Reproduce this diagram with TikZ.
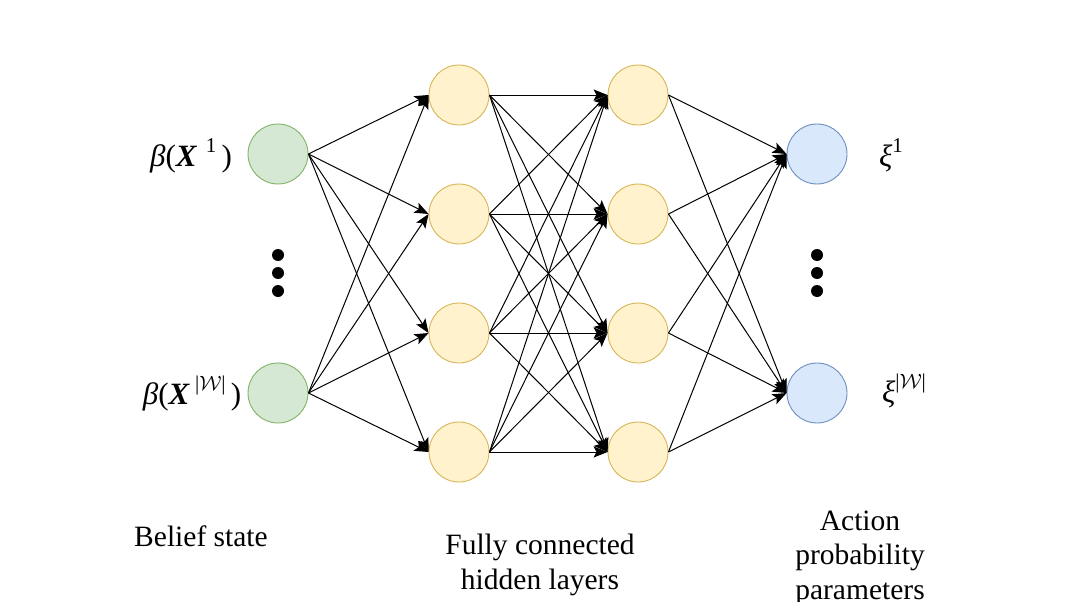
\documentclass[tikz,border=0pt]{standalone}
\usepackage{fontspec}
\setmainfont{Liberation Serif}
\usetikzlibrary{arrows.meta}
\newcommand{\supr}[1]{\raisebox{0.42em}{\fontsize{21}{21}\selectfont #1}}
\begin{document}
\begin{tikzpicture}[x=1pt,y=-1pt,
  neuron/.style={circle,minimum size=60pt,inner sep=0pt,line width=0.9pt},
  inp/.style={neuron,draw={rgb,255:red,130;green,179;blue,102},fill={rgb,255:red,213;green,232;blue,212}},
  hid/.style={neuron,draw={rgb,255:red,214;green,182;blue,86},fill={rgb,255:red,255;green,242;blue,204}},
  outp/.style={neuron,draw={rgb,255:red,108;green,142;blue,191},fill={rgb,255:red,218;green,232;blue,252}},
  conn/.style={line width=1pt,-{Stealth[length=14pt,width=11pt,inset=3pt]}},
  dot/.style={circle,fill=black,inner sep=0pt,minimum size=12pt},
  lab/.style={font=\fontsize{29.5}{34.5}\selectfont,align=center},
  mlab/.style={font=\fontsize{31}{34}\selectfont,inner sep=0pt}]
\useasboundingbox (0,0) rectangle (1065,602);
% nodes
\node[inp] (i1) at (278,154) {};
\node[inp] (i2) at (278,393) {};
\foreach \k/\y in {1/95,2/214,3/333,4/452}{
  \node[hid] (a\k) at (459,\y) {};
  \node[hid] (b\k) at (638,\y) {};
}
\node[outp] (o1) at (817,154) {};
\node[outp] (o2) at (817,393) {};
% dots
\node[dot] (d1) at (278,255) {};
\node[dot] (d2) at (278,273) {};
\node[dot] (d3) at (278,291) {};
\node[dot] (e1) at (817,255) {};
\node[dot] (e2) at (817,273) {};
\node[dot] (e3) at (817,291) {};
% edges
\foreach \i in {1,2}{\foreach \k in {1,2,3,4}{\draw[conn] (i\i.east) -- (a\k.west);}}
\foreach \j in {1,2,3,4}{\foreach \k in {1,2,3,4}{\draw[conn] (a\j.east) -- (b\k.west);}}
\foreach \j in {1,2,3,4}{\foreach \k in {1,2}{\draw[conn] (b\j.east) -- (o\k.west);}}
% labels
\node[mlab,anchor=base] (l1) at (191,166) {\textit{β}(\textbf{\textit{X}}\;\supr{1}\,)};
\node[mlab,anchor=base] (l2) at (192,404) {\textit{β}(\textbf{\textit{X}}\,\supr{|$\mathcal{W}$|}\,)};
\node[mlab,anchor=base] (l3) at (891,166) {\textit{ξ}\supr{1}};
\node[mlab,anchor=base] (l4) at (904,402) {\textit{ξ}\supr{|$\mathcal{W}$|}};
\node[lab] (t1) at (201,536) {Belief state};
\node[lab] (t2) at (540,565) {Fully connected\\hidden layers};
\node[lab] (t3) at (860,558) {Action\\probability\\parameters};
\end{tikzpicture}
\end{document}
